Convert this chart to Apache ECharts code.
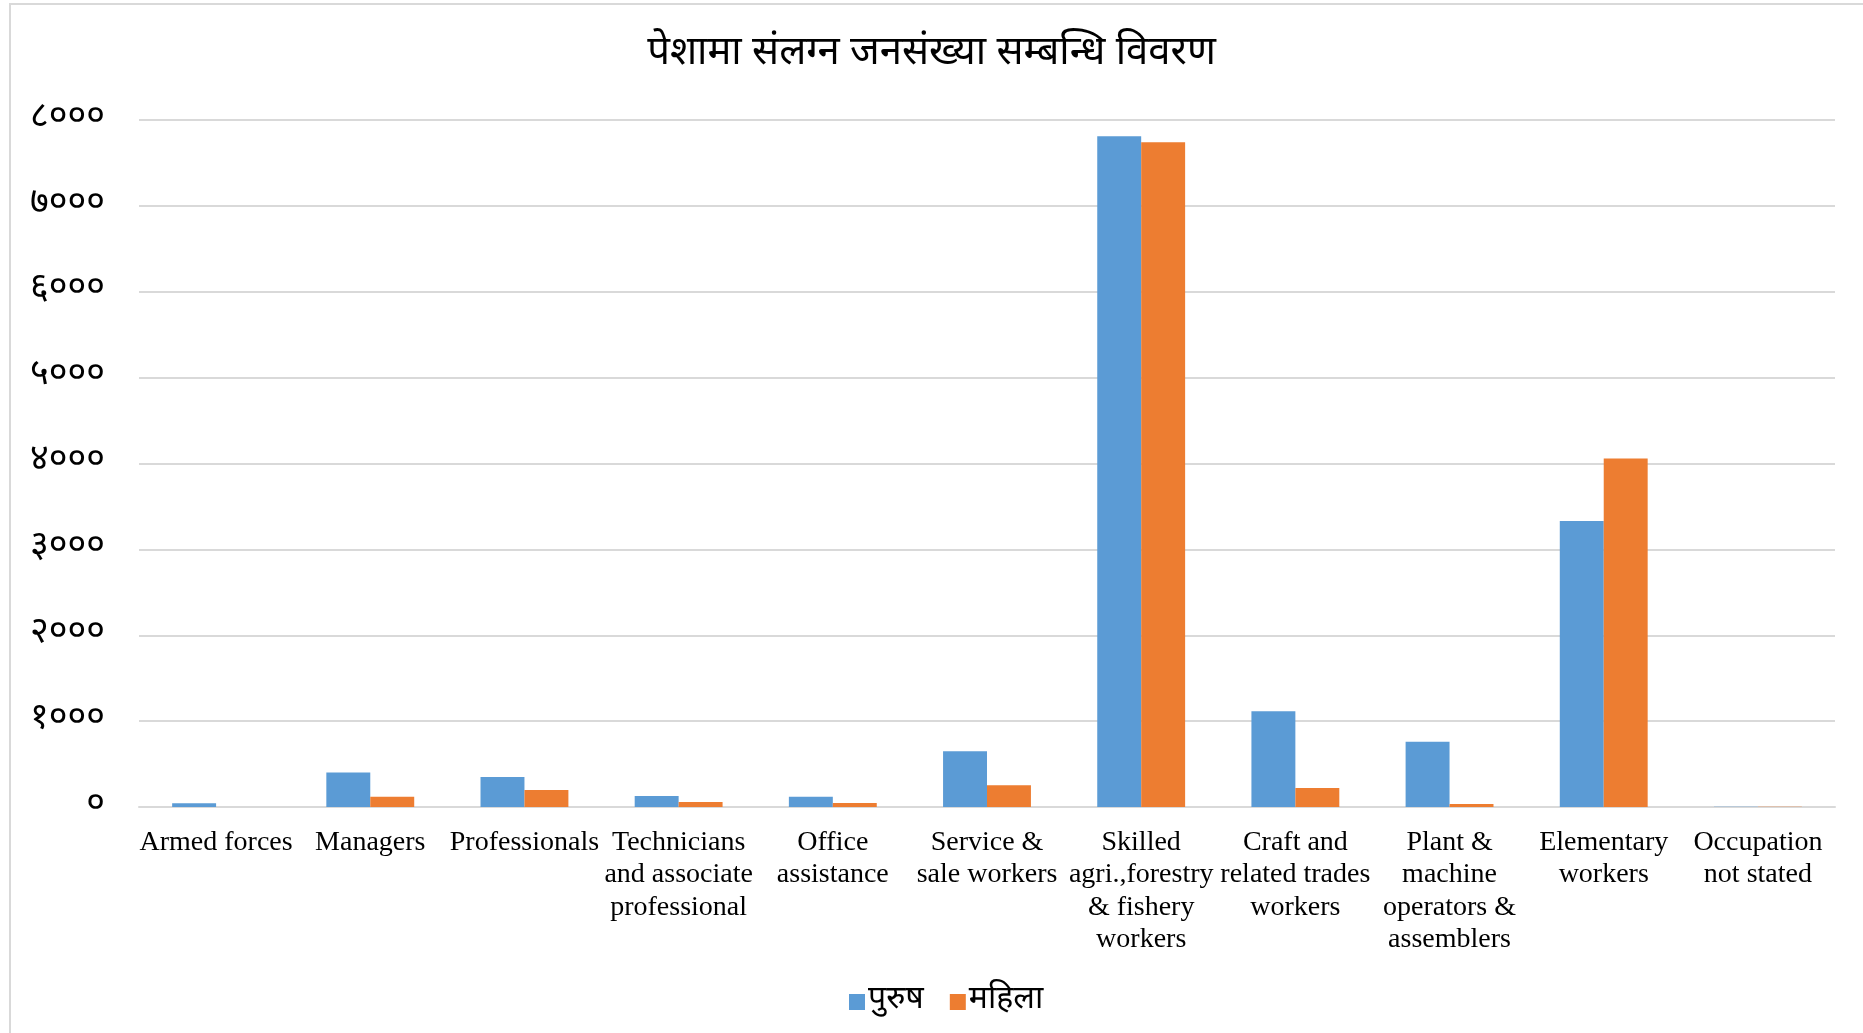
<!DOCTYPE html>
<html><head><meta charset="utf-8">
<script src="https://cdn.jsdelivr.net/npm/echarts@6/dist/echarts.min.js"></script>
<style>
html,body{margin:0;padding:0;background:#fff;overflow:hidden;}
#frame{position:absolute;left:9px;top:3px;width:1870px;height:1040px;border-left:2px solid #d9d9d9;border-top:2px solid #d9d9d9;box-sizing:border-box;}
#c{position:absolute;left:0;top:0;width:1863px;height:1033px;}
</style></head>
<body>
<div id="frame"></div>
<div id="c"></div>
<script>
var categories = ['Armed forces','Managers','Professionals','Technicians\nand associate\nprofessional','Office\nassistance','Service &\nsale workers','Skilled\nagri.,forestry\n& fishery\nworkers','Craft and\nrelated trades\nworkers','Plant &\nmachine\noperators &\nassemblers','Elementary\nworkers','Occupation\nnot stated'];
var male = [45, 403, 349, 128, 120, 648, 7812, 1116, 759, 3329, 4];
var female = [0, 120, 198, 58, 47, 252, 7742, 221, 35, 4059, 4];
var yTickLabels = ['०','१०००','२०००','३०००','४०००','५०००','६०००','७०००','८०००'];
var seriesNames = ['पुरुष','महिला'];
var titleText = 'पेशामा संलग्न जनसंख्या सम्बन्धि विवरण';

var deva = "'Noto Sans Devanagari','Noto Serif Devanagari','Noto Sans','Lohit Devanagari',sans-serif";
var chart = echarts.init(document.getElementById('c'));
chart.setOption({
  animation:false,
  title:{text:titleText,left:'center',top:32,textStyle:{fontFamily:deva,fontSize:40,fontWeight:'normal',color:'#000'}},
  legend:{data:seriesNames,bottom:10,left:844,itemWidth:16,itemHeight:16,itemGap:26,icon:'rect',
    textStyle:{fontFamily:deva,fontSize:32,color:'#000',padding:[0,0,0,-2]}},
  grid:{left:139,right:28,top:120,bottom:226,containLabel:false},
  xAxis:{type:'category',data:categories,
    axisLine:{lineStyle:{color:'#d9d9d9',width:2}},axisTick:{show:false},
    axisLabel:{interval:0,fontFamily:"'Liberation Serif','Times New Roman',serif",fontSize:28,lineHeight:32.5,color:'#000',margin:19}},
  yAxis:{type:'value',min:0,max:8000,interval:1000,
    axisLine:{show:false},axisTick:{show:false},
    splitLine:{lineStyle:{color:'#d9d9d9',width:2}},
    axisLabel:{margin:34,fontFamily:deva,fontSize:36,color:'#000',formatter:function(v){return yTickLabels[Math.round(v/1000)];}}},
  series:[
    {name:seriesNames[0],type:'bar',data:male,barGap:'0%',barCategoryGap:'43%',itemStyle:{color:'#5B9BD5'}},
    {name:seriesNames[1],type:'bar',data:female,itemStyle:{color:'#ED7D31'}}
  ]
});
</script>
</body></html>
